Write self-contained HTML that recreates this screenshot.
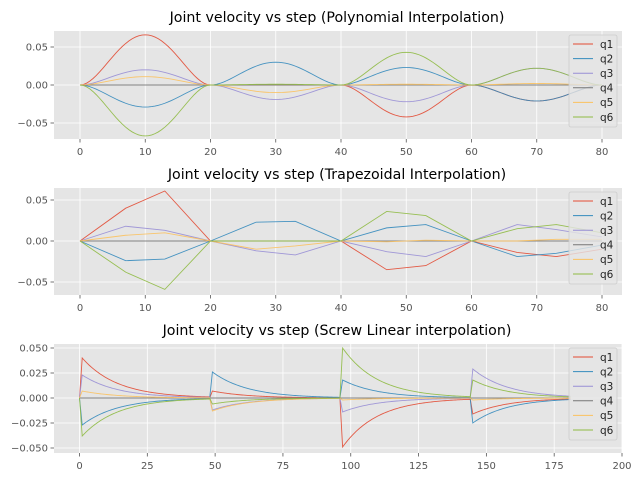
<!DOCTYPE html>
<html><head><meta charset="utf-8"><style>
body{margin:0;background:#fff;width:640px;height:480px;overflow:hidden;font-family:"Liberation Sans",sans-serif}
svg text{font-family:"DejaVu Sans","Liberation Sans",sans-serif}
</style></head><body>
<svg id="fig" width="640" height="480" xmlns="http://www.w3.org/2000/svg"></svg>
<script>
const seriesNames=["q1","q2","q3","q4","q5","q6"];
const colors=["#E24A33","#348ABD","#988ED5","#777777","#FBC15E","#8EBA42"];
// Polynomial: peak velocity per 20-step segment (segments starting at 0,20,40,60)
const polySegStarts=[0,20,40,60];
const polyQ1=[0.066,0,-0.042,-0.021];
const polyQ2=[-0.029,0.030,0.023,-0.021];
const polyQ3=[0.020,-0.019,-0.022,0.022];
const polyQ4=[0,0,0,0];
const polyQ5=[0.011,-0.010,0.001,0.002];
const polyQ6=[-0.067,0.001,0.043,0.022];
// Trapezoidal: values at knots
const trapSteps=[0,7,13,20,27,33,40,47,53,60,67,73,80];
const trapQ1=[0,0.040,0.061,0,0,0,0,-0.035,-0.030,0,-0.014,-0.019,-0.010];
const trapQ2=[0,-0.024,-0.022,0,0.023,0.024,0,0.016,0.020,0,-0.019,-0.015,-0.005];
const trapQ3=[0,0.018,0.013,0,-0.012,-0.017,0,-0.013,-0.019,0,0.020,0.014,0.005];
const trapQ4=[0,0,0,0,0,0,0,0,0,0,0,0,0];
const trapQ5=[0,0.007,0.010,0,-0.010,-0.006,0,-0.001,0.001,0,0,0.002,0.002];
const trapQ6=[0,-0.038,-0.059,0,0,0,0,0.036,0.031,0,0.015,0.020,0.010];
// Screw: initial velocity at each segment start (then decays)
const screwSegStarts=[0,48,96,144];
const screwEnd=181;
const screwQ1=[0.040,0.007,-0.049,-0.016];
const screwQ2=[-0.027,0.026,0.018,-0.025];
const screwQ3=[0.023,-0.012,-0.014,0.029];
const screwQ4=[0,0,0,0];
const screwQ5=[0.007,-0.013,-0.002,-0.002];
const screwQ6=[-0.038,-0.006,0.050,0.018];
const polyTicksY=[0.05,0,-0.05], polyLabY=["0.05","0.00","\u22120.05"];
const ticksX80=[0,10,20,30,40,50,60,70,80];
const screwTicksY=[0.05,0.025,0,-0.025,-0.05], screwLabY=["0.050","0.025","0.000","\u22120.025","\u22120.050"];
const ticksX200=[0,25,50,75,100,125,150,175,200];

const NS="http://www.w3.org/2000/svg", fig=document.getElementById('fig');
function mk(t,a,p){const e=document.createElementNS(NS,t);for(const k in a)e.setAttribute(k,a[k]);(p||fig).appendChild(e);return e;}

function panel(cfg){
  const g=mk('g',{});
  
  
  const L=54,R=622,T=cfg.top,B=cfg.bottom;
  const sx=v=>cfg.x0+(v)*cfg.kx, sy=v=>cfg.y0-v*cfg.ky;
  const bg=mk('rect',{x:L,y:T,width:R-L,height:B-T,fill:'#E5E5E5'},g);
  
  
  cfg.xt.forEach(v=>{const x=sx(v);mk('line',{x1:x,x2:x,y1:T,y2:B,stroke:'#fff','stroke-width':0.8},g);
    mk('line',{x1:x,x2:x,y1:B,y2:B+3.5,stroke:'#555','stroke-width':0.8},g);
    const t=mk('text',{x:x,y:B+16,'font-size':10,fill:'#555','text-anchor':'middle'},g);t.textContent=v;
    
    });
  cfg.yt.forEach((v,i)=>{const y=sy(v);mk('line',{x1:L,x2:R,y1:y,y2:y,stroke:'#fff','stroke-width':0.8},g);
    mk('line',{x1:L-3.5,x2:L,y1:y,y2:y,stroke:'#555','stroke-width':0.8},g);
    const t=mk('text',{x:L-6,y:y+3.5,'font-size':10,fill:'#555','text-anchor':'end'},g);t.textContent=cfg.yl[i];
    
    });
  const tt=mk('text',{x:337,y:T-9,'font-size':14.2,fill:'#000','text-anchor':'middle'},g);tt.textContent=cfg.title;
  
  
  const cp='clip'+T;const c=mk('clipPath',{id:cp},g);mk('rect',{x:L,y:T,width:R-L,height:B-T},c);
  cfg.series.forEach((pts,i)=>{
    const d=pts.map((p,j)=>(j?'L':'M')+sx(p[0]).toFixed(2)+','+sy(p[1]).toFixed(2)).join('');
    const pl=mk('path',{d:d,fill:'none',stroke:colors[i],'stroke-width':0.9,'stroke-opacity':0.9,'clip-path':'url(#'+cp+')'},g);
    
    
  });
  const lg=mk('g',{},g);
  
  
  const ly=T+4;
  mk('rect',{x:569,y:ly,width:48,height:92,rx:2,fill:'#E5E5E5',stroke:'#ccc','stroke-width':0.8,'fill-opacity':0.8},lg);
  seriesNames.forEach((n,i)=>{const y=ly+9+i*14.6;
    const e=mk('g',{},lg);
    
    
    mk('line',{x1:573,x2:593,y1:y,y2:y,stroke:colors[i],'stroke-width':1},e);
    const t=mk('text',{x:600,y:y+3.8,'font-size':10.5,fill:'#222'},e);t.textContent=n;});
}
function polySeries(peaks){const pts=[];polySegStarts.forEach((s,k)=>{for(let t=0;t<20;t+=0.5){const u=t/20;pts.push([s+t,peaks[k]*16*u*u*(1-u)*(1-u)]);}});pts.push([80,0]);return pts;}
function trapSeries(vals){return trapSteps.map((s,i)=>[s,vals[i]]);}
function screwSeries(vals){const pts=[];screwSegStarts.forEach((s,k)=>{const e=k<3?screwSegStarts[k+1]:screwEnd;pts.push([s,0]);for(let t=1;t<=e-s;t+=0.5)pts.push([s+t,vals[k]*Math.exp(-(t-1)/13)]);});return pts;}
panel({name:'polynomial-chart',title:'Joint velocity vs step (Polynomial Interpolation)',top:31,bottom:139,x0:80,kx:6.525,y0:85,ky:760,xt:ticksX80,yt:polyTicksY,yl:polyLabY,
  series:[polyQ1,polyQ2,polyQ3,polyQ4,polyQ5,polyQ6].map(polySeries)});
panel({name:'trapezoidal-chart',title:'Joint velocity vs step (Trapezoidal Interpolation)',top:188,bottom:295,x0:80,kx:6.525,y0:241,ky:820,xt:ticksX80,yt:polyTicksY,yl:polyLabY,
  series:[trapQ1,trapQ2,trapQ3,trapQ4,trapQ5,trapQ6].map(trapSeries)});
panel({name:'screw-linear-chart',title:'Joint velocity vs step (Screw Linear interpolation)',top:344,bottom:453,x0:79.5,kx:2.7125,y0:398,ky:1000,xt:ticksX200,yt:screwTicksY,yl:screwLabY,
  series:[screwQ1,screwQ2,screwQ3,screwQ4,screwQ5,screwQ6].map(screwSeries)});
</script>
</body></html>
